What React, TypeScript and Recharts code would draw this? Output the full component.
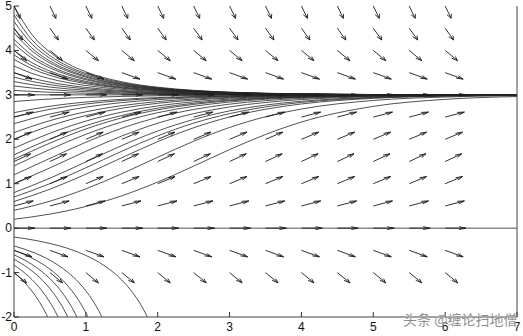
import { ComposedChart, Line, Scatter, XAxis, YAxis } from 'recharts';

// solution curves
const T_MID = [0, 0.5, 1, 1.5, 2, 2.5, 3, 3.5, 4, 5, 6, 7];
const MID_CURVES = [
    [0.2, 0.316, 0.488, 0.728, 1.037, 1.396, 1.768, 2.108, 2.388, 2.741, 2.899, 2.962],
    [0.4, 0.607, 0.885, 1.224, 1.596, 1.956, 2.266, 2.508, 2.681, 2.874, 2.952, 2.982],
    [0.6, 0.876, 1.214, 1.585, 1.947, 2.259, 2.502, 2.676, 2.795, 2.921, 2.971, 2.989],
    [0.7, 1.002, 1.358, 1.731, 2.077, 2.363, 2.578, 2.729, 2.83, 2.935, 2.976, 2.991],
    [0.8, 1.124, 1.491, 1.859, 2.187, 2.447, 2.639, 2.77, 2.856, 2.945, 2.98, 2.993],
    [1.0, 1.356, 1.728, 2.074, 2.361, 2.577, 2.728, 2.829, 2.894, 2.96, 2.985, 2.995],
    [1.2, 1.571, 1.933, 2.248, 2.494, 2.671, 2.791, 2.87, 2.92, 2.97, 2.989, 2.996],
    [1.4, 1.772, 2.112, 2.39, 2.598, 2.743, 2.838, 2.9, 2.939, 2.977, 2.992, 2.997],
    [1.55, 1.914, 2.232, 2.482, 2.663, 2.786, 2.866, 2.917, 2.95, 2.981, 2.993, 2.997],
    [1.65, 2.005, 2.306, 2.537, 2.701, 2.811, 2.883, 2.928, 2.956, 2.984, 2.994, 2.998],
    [1.8, 2.136, 2.409, 2.612, 2.752, 2.844, 2.904, 2.941, 2.964, 2.987, 2.995, 2.998],
    [2.0, 2.302, 2.534, 2.699, 2.81, 2.882, 2.927, 2.955, 2.973, 2.99, 2.996, 2.999],
    [2.15, 2.42, 2.619, 2.757, 2.848, 2.906, 2.942, 2.965, 2.978, 2.992, 2.997, 2.999],
    [2.35, 2.569, 2.723, 2.826, 2.892, 2.933, 2.959, 2.975, 2.985, 2.994, 2.998, 2.999],
    [2.5, 2.675, 2.794, 2.872, 2.921, 2.952, 2.97, 2.982, 2.989, 2.996, 2.998, 2.999],
    [2.6, 2.744, 2.839, 2.9, 2.939, 2.963, 2.977, 2.986, 2.992, 2.997, 2.999, 3.0],
    [2.85, 2.907, 2.943, 2.965, 2.979, 2.987, 2.992, 2.995, 2.997, 2.999, 3.0, 3.0],
];

const T_UP = [0, 0.25, 0.5, 0.75, 1, 1.5, 2, 2.5, 3, 4, 5, 7];
const UP_CURVES = [
    [5.0, 4.357, 3.961, 3.699, 3.518, 3.294, 3.172, 3.102, 3.061, 3.022, 3.008, 3.001],
    [4.8, 4.237, 3.883, 3.646, 3.48, 3.274, 3.16, 3.095, 3.057, 3.021, 3.008, 3.001],
    [4.65, 4.145, 3.823, 3.604, 3.45, 3.258, 3.151, 3.09, 3.054, 3.02, 3.007, 3.001],
    [4.5, 4.052, 3.76, 3.561, 3.419, 3.241, 3.142, 3.085, 3.051, 3.018, 3.007, 3.001],
    [4.4, 3.988, 3.717, 3.531, 3.398, 3.229, 3.135, 3.08, 3.048, 3.018, 3.006, 3.001],
    [4.25, 3.891, 3.651, 3.484, 3.364, 3.211, 3.124, 3.074, 3.044, 3.016, 3.006, 3.001],
    [4.15, 3.826, 3.606, 3.452, 3.34, 3.198, 3.117, 3.07, 3.042, 3.015, 3.006, 3.001],
    [4.0, 3.725, 3.536, 3.402, 3.304, 3.177, 3.105, 3.063, 3.038, 3.014, 3.005, 3.001],
    [3.9, 3.657, 3.488, 3.367, 3.278, 3.163, 3.097, 3.058, 3.035, 3.013, 3.005, 3.001],
    [3.8, 3.588, 3.439, 3.331, 3.252, 3.148, 3.088, 3.053, 3.032, 3.012, 3.004, 3.001],
    [3.65, 3.483, 3.363, 3.275, 3.21, 3.124, 3.074, 3.044, 3.027, 3.01, 3.004, 3.0],
    [3.5, 3.376, 3.285, 3.217, 3.167, 3.099, 3.059, 3.036, 3.021, 3.008, 3.003, 3.0],
    [3.4, 3.303, 3.23, 3.177, 3.136, 3.081, 3.048, 3.029, 3.018, 3.007, 3.002, 3.0],
    [3.3, 3.229, 3.175, 3.134, 3.104, 3.062, 3.037, 3.023, 3.014, 3.005, 3.002, 3.0],
    [3.2, 3.154, 3.118, 3.091, 3.071, 3.042, 3.026, 3.015, 3.009, 3.003, 3.001, 3.0],
    [3.1, 3.077, 3.06, 3.047, 3.036, 3.022, 3.013, 3.008, 3.005, 3.002, 3.001, 3.0],
];

// curves below zero, [t, y] pairs, they leave the box at y = -2
const LOW_CURVES = [
    [[0, -0.2], [0.25, -0.262], [0.5, -0.345], [0.75, -0.457], [1, -0.614], [1.25, -0.837], [1.5, -1.167], [1.65, -1.448], [1.75, -1.685], [1.85, -1.979], [1.95, -2.351]],
    [[0, -0.4], [0.25, -0.534], [0.5, -0.722], [0.75, -0.995], [0.9, -1.221], [1, -1.41], [1.1, -1.639], [1.2, -1.923], [1.3, -2.28]],
    [[0, -0.5], [0.25, -0.674], [0.5, -0.924], [0.7, -1.212], [0.8, -1.399], [0.9, -1.625], [1, -1.905], [1.1, -2.256]],
    [[0, -0.6], [0.25, -0.817], [0.5, -1.137], [0.6, -1.308], [0.7, -1.515], [0.8, -1.769], [0.9, -2.083], [1, -2.486]],
    [[0, -0.7], [0.2, -0.902], [0.4, -1.18], [0.5, -1.36], [0.6, -1.578], [0.7, -1.846], [0.8, -2.182]],
    [[0, -0.83], [0.2, -1.08], [0.3, -1.241], [0.4, -1.433], [0.5, -1.668], [0.6, -1.958], [0.7, -2.324]],
    [[0, -1], [0.1, -1.145], [0.2, -1.319], [0.3, -1.528], [0.4, -1.785], [0.5, -2.104]],
];

const EQUILIBRIA = [0, 3];

// direction field
const COL_T = [0, 0.5, 1, 1.5, 2, 2.5, 3, 3.5, 4, 4.5, 5, 5.5, 6];
const ROW_Y = [-1, -0.5, 0, 0.5, 1, 1.5, 2, 2.5, 3, 3.5, 4, 4.5, 5];
const ROW_SLOPE = [-1.33, -0.58, 0, 0.42, 0.67, 0.75, 0.67, 0.42, 0, -0.58, -1.33, -2.25, -3.33];

const X_TICKS = [0, 1, 2, 3, 4, 5, 6, 7];
const Y_TICKS = [-2, -1, 0, 1, 2, 3, 4, 5];

const W = 523;
const H = 336;
const LEFT_W = 14;
const RIGHT_W = 6;
const TOP_M = 6;
const BOTTOM_H = 19;
const PX_T = (W - LEFT_W - RIGHT_W) / 7;
const PX_Y = (H - TOP_M - BOTTOM_H) / 7;
const ARROW_LEN = 0.29;
const INK = '#1c1c1c';
const FONT = 'Liberation Sans, Arial, sans-serif';

const Arrow = (props: any) => {
    const { cx, cy, payload } = props;
    const s = payload.s;
    const n = Math.sqrt(1 + s * s);
    const u = ARROW_LEN / n;
    const v = (ARROW_LEN * s) / n;
    const a = 0.33;
    const b = 0.33;
    const tx = cx + u * PX_T;
    const ty = cy - v * PX_Y;
    const h1x = cx + (u - a * (u + b * v)) * PX_T;
    const h1y = cy - (v - a * (v - b * u)) * PX_Y;
    const h2x = cx + (u - a * (u - b * v)) * PX_T;
    const h2y = cy - (v - a * (v + b * u)) * PX_Y;
    return (
        <g stroke={INK} strokeWidth={0.9} fill="none">
            <line x1={cx} y1={cy} x2={tx} y2={ty} />
            <polyline points={`${h1x},${h1y} ${tx},${ty} ${h2x},${h2y}`} />
        </g>
    );
};

const LeftTick = ({ x, y, payload }: any) => (
    <g>
        <line x1={x} y1={y} x2={x + 5} y2={y} stroke="#333" />
        <text x={x - 2} y={y} textAnchor="end" dominantBaseline="central" fontSize={12} fontFamily={FONT} fill="#111">
            {payload.value}
        </text>
    </g>
);

const RightTick = ({ x, y }: any) => <line x1={x} y1={y} x2={x - 5} y2={y} stroke="#333" />;

const BottomTick = ({ x, y, payload }: any) => (
    <g>
        <line x1={x} y1={y} x2={x} y2={y - 5} stroke="#333" />
        <text x={x} y={y + 14} textAnchor="middle" fontSize={12} fontFamily={FONT} fill="#111">
            {payload.value}
        </text>
    </g>
);

const TopTick = ({ x, y }: any) => <line x1={x} y1={y} x2={x} y2={y + 5} stroke="#333" />;

const App = () => {
    const arrows = ROW_Y.flatMap((y, i) => COL_T.map((t) => ({ t, y, s: ROW_SLOPE[i] })));
    const mid = MID_CURVES.map((ys) => ys.map((y, i) => ({ t: T_MID[i], y })));
    const up = UP_CURVES.map((ys) => ys.map((y, i) => ({ t: T_UP[i], y })));
    const low = LOW_CURVES.map((pts) => pts.map(([t, y]) => ({ t, y })));
    const flat = EQUILIBRIA.map((y) => [{ t: 0, y }, { t: 7, y }]);
    const curves = [...low, ...flat, ...mid, ...up];

    return (
        <div style={{ position: 'absolute', left: 0, top: 0, width: W, height: H, background: '#fff' }}>
            <ComposedChart width={W} height={H} margin={{ top: TOP_M, right: 0, bottom: 0, left: 0 }}>
                <XAxis
                    dataKey="t"
                    type="number"
                    domain={[0, 7]}
                    ticks={X_TICKS}
                    allowDataOverflow
                    height={BOTTOM_H}
                    tickLine={false}
                    tickSize={0}
                    tickMargin={0}
                    tick={<BottomTick />}
                    axisLine={{ stroke: '#444' }}
                    interval={0}
                />
                <XAxis
                    xAxisId="top"
                    orientation="top"
                    type="number"
                    domain={[0, 7]}
                    ticks={X_TICKS}
                    height={0}
                    tickLine={false}
                    tickSize={0}
                    tickMargin={0}
                    tick={<TopTick />}
                    axisLine={{ stroke: '#444' }}
                    interval={0}
                />
                <YAxis
                    dataKey="y"
                    type="number"
                    domain={[-2, 5]}
                    ticks={Y_TICKS}
                    allowDataOverflow
                    width={LEFT_W}
                    tickLine={false}
                    tickSize={0}
                    tickMargin={0}
                    tick={<LeftTick />}
                    axisLine={{ stroke: '#444' }}
                    interval={0}
                />
                <YAxis
                    yAxisId="right"
                    orientation="right"
                    type="number"
                    domain={[-2, 5]}
                    ticks={Y_TICKS}
                    width={RIGHT_W}
                    tickLine={false}
                    tickSize={0}
                    tickMargin={0}
                    tick={<RightTick />}
                    axisLine={{ stroke: '#444' }}
                    interval={0}
                />
                {curves.map((pts, i) => (
                    <Line
                        key={`curve-${i}`}
                        data={pts}
                        dataKey="y"
                        type="monotone"
                        stroke="#262626"
                        strokeWidth={0.8}
                        dot={false}
                        activeDot={false}
                        legendType="none"
                        isAnimationActive={false}
                    />
                ))}
                <Scatter data={arrows} dataKey="y" shape={<Arrow />} legendType="none" isAnimationActive={false} />
            </ComposedChart>
            <div
                style={{
                    position: 'absolute',
                    left: 403,
                    top: 309,
                    fontSize: 14,
                    fontFamily: '"Noto Sans CJK SC", sans-serif',
                    color: 'rgba(120,120,120,0.85)',
                    whiteSpace: 'nowrap',
                    lineHeight: '20px',
                    textShadow: '0 0 1px #fff',
                }}
            >
                头条 @缠论扫地僧
            </div>
        </div>
    );
};

export default App;
